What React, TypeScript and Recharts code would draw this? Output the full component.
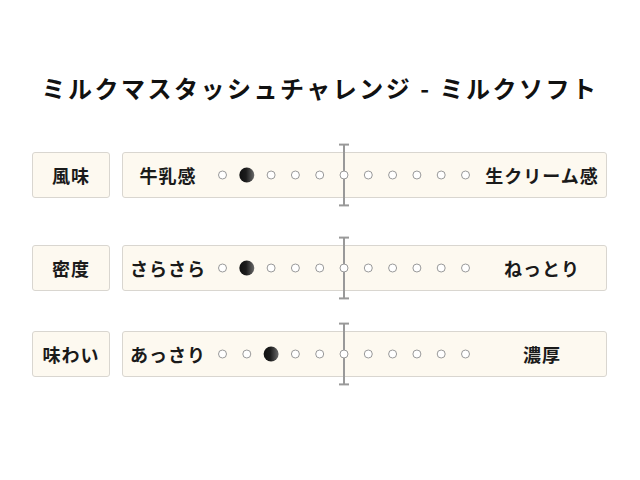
import React from 'react';
import { ScatterChart, Scatter, XAxis, YAxis, ErrorBar } from 'recharts';

const title = 'ミルクマスタッシュチャレンジ - ミルクソフト';
const categories = ['風味', '密度', '味わい'];
const leftLabels = ['牛乳感', 'さらさら', 'あっさり'];
const rightLabels = ['生クリーム感', 'ねっとり', '濃厚'];
const ratings = [-4, -4, -3];
const scalePoints = [-5, -4, -3, -2, -1, 0, 1, 2, 3, 4, 5];

const FONT = '"Noto Sans CJK JP", "Noto Sans", sans-serif';
const rowTops = [152, 245, 331];
const CENTER_X = 344;
const STEP = 24.3;
const CHART_H = 64;

const DotShape = (props: any) => {
  const { cx, cy, payload } = props;
  if (payload.filled) {
    return <circle cx={cx} cy={cy} r={7.5} fill="url(#dotGrad)" />;
  }
  return <circle cx={cx} cy={cy} r={4} fill="#fff" stroke="#9a9a9a" strokeWidth={1} />;
};

const boxStyle: React.CSSProperties = {
  position: 'absolute',
  top: (CHART_H - 46) / 2,
  height: 44,
  background: '#fdf9f0',
  border: '1px solid #d9d6d0',
  borderRadius: 3,
};

const labelText: React.CSSProperties = {
  position: 'absolute',
  top: 0,
  height: CHART_H,
  lineHeight: `${CHART_H}px`,
  fontFamily: FONT,
  fontWeight: 700,
  fontSize: 18,
  letterSpacing: 1,
  color: '#1a1a1a',
  transform: 'translateX(-50%)',
  whiteSpace: 'nowrap',
};

function Row({ idx }: { idx: number }) {
  const data = scalePoints.map((p) => ({ x: p, y: 0, filled: p === ratings[idx] }));
  const centre = [{ x: 0, y: 0, err: 0.95 }];
  return (
    <div style={{ position: 'absolute', left: 0, top: rowTops[idx] - (CHART_H - 46) / 2, width: 640, height: CHART_H }}>
      <div style={{ ...boxStyle, left: 32, width: 76 }} />
      <div style={{ ...boxStyle, left: 122, width: 483 }} />
      <div style={{ ...labelText, left: 71 }}>{categories[idx]}</div>
      <div style={{ ...labelText, left: 168 }}>{leftLabels[idx]}</div>
      <div style={{ ...labelText, left: 542 }}>{rightLabels[idx]}</div>
      <div style={{ position: 'absolute', left: 0, top: 0 }}>
        <ScatterChart width={640} height={CHART_H} margin={{ top: 0, right: 0, bottom: 0, left: 0 }}>
          <defs>
            <linearGradient id="dotGrad" x1="0" y1="0" x2="1" y2="0">
              <stop offset="0%" stopColor="#111" />
              <stop offset="45%" stopColor="#1c1c1c" />
              <stop offset="100%" stopColor="#6a6a6a" />
            </linearGradient>
          </defs>
          <XAxis type="number" dataKey="x" hide domain={[-CENTER_X / STEP, (640 - CENTER_X) / STEP]} />
          <YAxis type="number" dataKey="y" hide domain={[-1, 1]} />
          <Scatter data={centre} isAnimationActive={false} shape={() => <g />}>
            <ErrorBar dataKey="err" direction="y" width={5} stroke="#999" strokeWidth={2} />
          </Scatter>
          <Scatter data={data} isAnimationActive={false} shape={DotShape} />
        </ScatterChart>
      </div>
    </div>
  );
}

export default function App() {
  return (
    <div style={{ position: 'absolute', left: 0, top: 0, width: 640, height: 480, background: '#fff' }}>
      <div
        style={{
          position: 'absolute',
          top: 70,
          left: 0,
          width: 640,
          textAlign: 'center',
          fontFamily: FONT,
          fontWeight: 700,
          fontSize: 24,
          letterSpacing: 2.5,
          lineHeight: '36px',
          color: '#111',
        }}
      >
        {title}
      </div>
      {categories.map((_, i) => (
        <Row key={i} idx={i} />
      ))}
    </div>
  );
}
